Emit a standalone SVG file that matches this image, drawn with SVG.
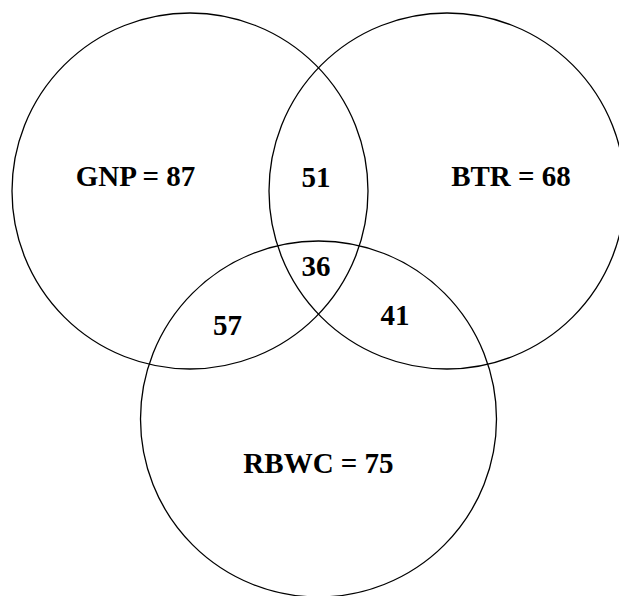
<svg xmlns="http://www.w3.org/2000/svg" width="619" height="596" viewBox="0 0 619 596">
<style>
.c{fill:none;stroke:#000;stroke-width:1.3}
.t{font-family:"Liberation Serif","Times New Roman",serif;font-weight:bold;font-size:29px;fill:#000;text-anchor:middle}
</style>
<rect width="619" height="596" fill="#fff"/>
<g id="gnp"><circle class="c" cx="190" cy="191" r="178"/><text class="t" x="135.5" y="186">GNP = 87</text></g>
<g id="btr"><circle class="c" cx="447" cy="191" r="178"/><text class="t" x="511" y="186">BTR = 68</text></g>
<g id="rbwc"><circle class="c" cx="318.5" cy="419" r="178"/><text class="t" x="318.5" y="473">RBWC = 75</text></g>
<g id="labels">
<text class="t" x="316" y="187">51</text>
<text class="t" x="316" y="276">36</text>
<text class="t" x="227.5" y="335">57</text>
<text class="t" x="395" y="325">41</text>
</g>
</svg>
